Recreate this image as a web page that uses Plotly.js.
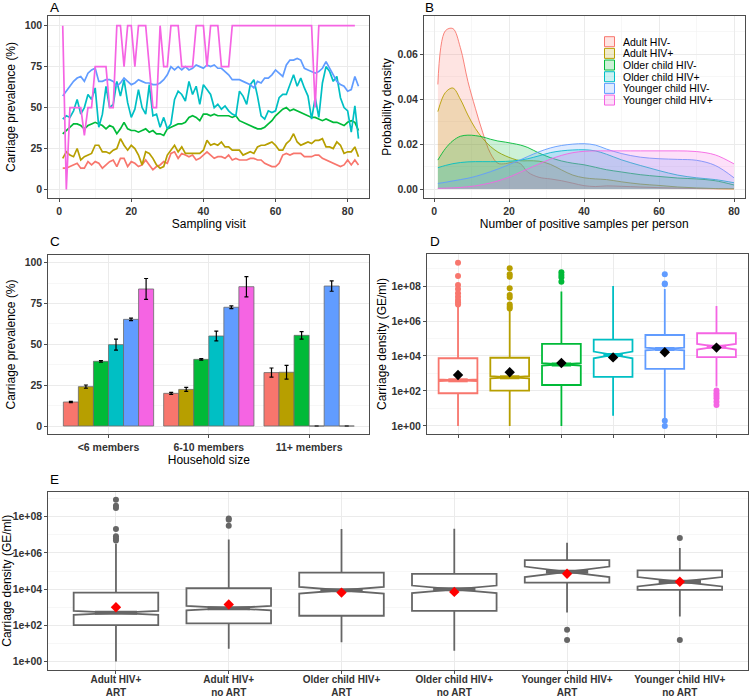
<!DOCTYPE html>
<html><head><meta charset="utf-8">
<script src="https://cdn.plot.ly/plotly-3.0.1.min.js"></script>
<style>html,body{margin:0;padding:0;background:#fff}#chart{width:750px;height:696px}</style>
</head><body><div id="chart"></div>
<script>
// ---------------- DATA ----------------
const groupNames = ['Adult HIV-','Adult HIV+','Older child HIV-','Older child HIV+','Younger child HIV-','Younger child HIV+'];
const groupColors = ['#F8766D','#B79F00','#00BA38','#00BFC4','#619CFF','#F564E3'];

// Panel A: carriage prevalence (%) per sampling visit
const prevAdultNeg = [13,13,14,15,16,13,13,17,15,17, 16,13,15,17,18,14,19,19,14,17, 16,14,15,18,15,12,14,15,17,16,
  22,23,19,22,21,20,21,18,19,21, 23,21,19,20,20,19,21,18,19,18, 18,18,19,19,18,18,16,15,14,14,
  16,21,22,21,22,22,22,20,20,20, 21,21,19,18,17,16,15,14,15,18, 15,18,15];
const prevAdultPos = [19,23,21,20,25,18,20,21,22,27, 27,23,23,22,24,25,31,27,24,27, 25,21,15,23,22,19,15,13,14,21,
  24,27,23,26,22,22,22,22,22,24, 30,27,28,27,29,26,26,24,24,24, 21,22,23,22,26,
  27,27,28,29,27,24,24,28,30,34, 29,27,28,29,28,30,30,31,26,26, 25,29,27,22,23,23,26,20];
const prevOlderNeg = [34,36,38,40,40,39,37,39,40,41, 40,39,37,39,38,34,37,41,37,36, 36,35,36,37,35,36,34,34,33,37,
  38,39,40,40,41,44,45,44,42,46, 46,45,46,45,45,45,45,44,45,42, 41,40,39,38,37,
  37,38,40,42,45,47,49,50,48,49, 48,47,46,45,44,44,43,42,43,42, 41,41,40,39,41,42,41,36];
const prevOlderPos = [43,45,44,48,55,46,50,58,55,62, 38,46,63,50,52,66,57,67,53,44, 49,61,50,46,64,45,
  46,38,44,37,40,55,60,58,54,66, 58,63,52,64,61,58,50,52,49,51, 48,46,45,60,57,52,64,67,57,
  45,43,48,47,48,56,58,58,64,70, 63,68,62,57,43,56,44,65,75,72, 66,69,56,50,48,35,51,31];
const prevYoungerNeg = [57,60,63,66,68,69,66,71,73,74, 66,66,67,67,66,63,65,68,66,64, 65,67,66,65,65,64,64,65,67,70,
  75,73,75,73,75,73,74,76,75,74, 76,75,76,74,74,72,70,67,67,67, 66,65,64,62,66,
  65,68,68,70,73,71,69,76,79,79, 80,79,74,73,72,71,72,74,78,74, 70,66,64,63,60,61,69,63];
const prevYoungerPos = [100,0,50,50,50,50,33,50,50,75, 75,75,75,50,50,100,100,75,100,100, 75,100,100,100,75,50,50,100,75,75,
  100,100,100,75,75,75,75,100,100,100, 75,100,100,100,75,75,75,100,100,100,
  100,100,100,100,100,100,100,100,100,100, 100,100,100,100,100,100,100,100,100,100,
  50,100,100,100,100,100,100,100,100,100, 100,100];

// Panel B: probability density of number of positive samples per person
const densX = [1,3,5,7,9,11,13,15,17,19,21,23,25,28,31,34,37,40,43,46,50,55,60,65,70,75,80];
const densAdultNeg = [0.0466,0.0705,0.0715,0.0630,0.0480,0.0360,0.0250,0.0160,0.0115,0.0113,0.0120,0.0113,0.0075,0.0052,0.0045,0.0037,0.0026,0.0015,0.0011,0.0014,0.0012,0.0009,0.0006,0.0004,0.0002,0.0001,0.00005];
const densAdultPos = [0.0345,0.0430,0.0450,0.0400,0.0330,0.0270,0.0225,0.0190,0.0165,0.0148,0.0135,0.0126,0.0126,0.0124,0.0110,0.0085,0.0062,0.0050,0.0045,0.0042,0.0032,0.0022,0.0016,0.0009,0.0005,0.0002,0.0001];
const densOlderNeg = [0.0129,0.0180,0.0215,0.0235,0.0240,0.0238,0.0232,0.0222,0.0214,0.0209,0.0203,0.0196,0.0185,0.0160,0.0140,0.0125,0.0115,0.0108,0.0097,0.0086,0.0076,0.0064,0.0056,0.0049,0.0045,0.0037,0.0018];
const densOlderPos = [0.0095,0.0105,0.0113,0.0118,0.0121,0.0122,0.0122,0.0122,0.0122,0.0123,0.0125,0.0129,0.0135,0.0148,0.0162,0.0170,0.0174,0.0175,0.0170,0.0155,0.0130,0.0105,0.0082,0.0062,0.0050,0.0042,0.0028];
const densYoungerNeg = [0.0025,0.0030,0.0036,0.0042,0.0048,0.0056,0.0066,0.0077,0.0089,0.0102,0.0116,0.0130,0.0145,0.0166,0.0183,0.0194,0.0200,0.0202,0.0196,0.0178,0.0158,0.0142,0.0135,0.0132,0.0128,0.0105,0.0050];
const densYoungerPos = [0.0003,0.0004,0.0005,0.0007,0.0010,0.0014,0.0020,0.0027,0.0036,0.0047,0.0060,0.0075,0.0090,0.0112,0.0133,0.0150,0.0162,0.0168,0.0170,0.0170,0.0170,0.0170,0.0170,0.0170,0.0167,0.0152,0.0112];

// Panel C: carriage prevalence (%) by household size, with error
const householdSizes = ['&lt;6 members','6-10 members','11+ members'];
const hhAdultNeg = [14.7, 20.0, 32.7],   hhAdultNegErr = [0.4, 0.6, 2.8];
const hhAdultPos = [24.1, 22.4, 32.9],   hhAdultPosErr = [1.0, 1.2, 4.2];
const hhOlderNeg = [39.6, 40.8, 55.5],   hhOlderNegErr = [0.5, 0.5, 2.3];
const hhOlderPos = [49.8, 55.1, 0],      hhOlderPosErr = [3.4, 3.0, 0];
const hhYoungerNeg = [65.3, 72.7, 85.7], hhYoungerNegErr = [0.8, 0.8, 3.2];
const hhYoungerPos = [83.9, 85.3, 0],    hhYoungerPosErr = [6.4, 6.2, 0];

// Panel D: carriage density, log10(GE/ml), per group
const dLowerFence = [0.00, 0.00, 0.00, 0.59, 0.40, 2.25];
const dQ1         = [1.87, 2.02, 2.34, 2.80, 3.26, 3.94];
const dMedian     = [2.61, 2.78, 3.52, 4.06, 4.40, 4.53];
const dQ3         = [3.87, 3.90, 4.69, 4.93, 5.20, 5.30];
const dUpperFence = [6.85, 6.65, 7.68, 8.00, 7.83, 6.86];
const dNotch      = [0.05, 0.06, 0.07, 0.19, 0.08, 0.16];
const dMean       = [2.91, 3.07, 3.60, 3.92, 4.21, 4.48];
const dOutliers = [
  [9.33, 8.57, 8.06, 7.83, 7.58, 7.39, 7.20, 7.07, 6.95],
  [9.01, 8.67, 8.53, 7.87, 7.49, 7.35, 6.95, 6.82, 6.72],
  [8.78, 8.63, 8.48, 8.25],
  [],
  [8.67, 8.15, 8.10, 0.30, 0.00],
  [2.02, 1.87, 1.73, 1.58, 1.39, 1.20]
];
const logTickVals = [0, 2, 4, 6, 8];
const logTickText = ['1e+00','1e+02','1e+04','1e+06','1e+08'];

// Panel E: carriage density by ART status, log10(GE/ml)
const artGroups = ['Adult HIV+<br>ART','Adult HIV+<br>no ART','Older child HIV+<br>ART','Older child HIV+<br>no ART','Younger child HIV+<br>ART','Younger child HIV+<br>no ART'];
const eLowerFence = [0.00, 0.70, 1.06, 0.60, 2.71, 2.49];
const eQ1         = [2.01, 2.11, 2.53, 2.80, 4.36, 3.96];
const eMedian     = [2.69, 2.95, 3.94, 3.99, 4.96, 4.41];
const eQ3         = [3.81, 4.05, 4.91, 4.85, 5.60, 5.04];
const eUpperFence = [6.51, 6.74, 7.33, 7.34, 6.56, 6.28];
const eNotch      = [0.11, 0.12, 0.18, 0.21, 0.29, 0.26];
const eMean       = [3.00, 3.15, 3.81, 3.85, 4.85, 4.41];
const eOutliers = [
  [8.94, 8.61, 8.48, 7.33, 6.92, 6.80, 6.69],
  [7.91, 7.84, 7.50],
  [],
  [],
  [1.76, 1.19],
  [6.83, 1.19]
];

// ---------------- STYLE / LAYOUT HELPERS ----------------
const FONT = 'Liberation Sans, Arial, Helvetica, sans-serif';
const W = 750, H = 696;
const px2x = (a, b) => [a / W, b / W];
const px2y = (top, bottom) => [1 - bottom / H, 1 - top / H];
function fade(hex, a) {
  const n = parseInt(hex.slice(1), 16);
  return `rgba(${(n >> 16) & 255},${(n >> 8) & 255},${n & 255},${a})`;
}
function ax(extra) {
  return Object.assign({
    showline: true, mirror: true, linecolor: '#4d4d4d', linewidth: 1,
    ticks: 'outside', ticklen: 3, tickcolor: '#4d4d4d', tickwidth: 1,
    showgrid: true, gridcolor: '#ebebeb', gridwidth: 1, zeroline: false,
    tickfont: {family: FONT, size: 10.5, color: '#333333', weight: 'bold'},
    fixedrange: true
  }, extra);
}
function ttl(text, standoff) {
  return {text: text, font: {family: FONT, size: 12, color: '#000'}, standoff: standoff};
}
const minorGrid = (tick0, dtick) => ({showgrid: true, gridcolor: '#f2f2f2', gridwidth: 0.6, tick0: tick0, dtick: dtick, ticks: ''});

const traces = [];

// Panel A
const prevSeries = [prevAdultNeg, prevAdultPos, prevOlderNeg, prevOlderPos, prevYoungerNeg, prevYoungerPos];
prevSeries.forEach((s, i) => {
  traces.push({type: 'scatter', mode: 'lines', x: s.map((_, k) => k + 1), y: s,
    line: {color: groupColors[i], width: 1.7}, xaxis: 'x', yaxis: 'y', hoverinfo: 'skip'});
});

// Panel B
const densSeries = [densAdultNeg, densAdultPos, densOlderNeg, densOlderPos, densYoungerNeg, densYoungerPos];
densSeries.forEach((s, i) => {
  traces.push({type: 'scatter', mode: 'lines', x: densX, y: s, fill: 'tozeroy',
    fillcolor: fade(groupColors[i], 0.2), line: {color: groupColors[i], width: 0.9, shape: 'spline', smoothing: 1},
    xaxis: 'x2', yaxis: 'y2', hoverinfo: 'skip'});
});

// Panel C
const hhVals = [hhAdultNeg, hhAdultPos, hhOlderNeg, hhOlderPos, hhYoungerNeg, hhYoungerPos];
const hhErrs = [hhAdultNegErr, hhAdultPosErr, hhOlderNegErr, hhOlderPosErr, hhYoungerNegErr, hhYoungerPosErr];
hhVals.forEach((v, i) => {
  traces.push({type: 'bar', x: householdSizes, y: v, name: groupNames[i],
    marker: {color: groupColors[i], line: {color: '#6b6b6b', width: 0.8}},
    error_y: {type: 'data', array: hhErrs[i], visible: true, color: '#000', thickness: 1.2, width: 2},
    xaxis: 'x3', yaxis: 'y3', hoverinfo: 'skip'});
});

// Box panels
const BOXW = 0.75, NOTCHW = 0.5;
function boxPanel(xa, ya, colors, lf, q1, med, q3, uf, notch, mean, outl, meanColor) {
  for (let i = 0; i < q1.length; i++) {
    const pos = i + 1, c = colors[i];
    traces.push({type: 'box', orientation: 'v', x: [pos], q1: [q1[i]], median: [med[i]], q3: [q3[i]],
      lowerfence: [lf[i]], upperfence: [uf[i]], notchspan: [notch[i]], notched: true, notchwidth: NOTCHW,
      width: BOXW, boxpoints: false, fillcolor: '#ffffff', line: {color: c, width: 1.8},
      whiskerwidth: 0, xaxis: xa, yaxis: ya, hoverinfo: 'skip'});
    const hw = BOXW * NOTCHW / 2;
    traces.push({type: 'scatter', mode: 'lines', x: [pos - hw, pos + hw], y: [med[i], med[i]],
      line: {color: c, width: 4}, xaxis: xa, yaxis: ya, hoverinfo: 'skip'});
    if (outl[i].length) {
      traces.push({type: 'scatter', mode: 'markers', x: outl[i].map(() => pos), y: outl[i],
        marker: {color: c, size: 6, symbol: 'circle'}, xaxis: xa, yaxis: ya, hoverinfo: 'skip'});
    }
  }
  traces.push({type: 'scatter', mode: 'markers', x: mean.map((_, k) => k + 1), y: mean,
    marker: {color: meanColor, size: 8, symbol: 'diamond'}, xaxis: xa, yaxis: ya, hoverinfo: 'skip'});
}
boxPanel('x4', 'y4', groupColors, dLowerFence, dQ1, dMedian, dQ3, dUpperFence, dNotch, dMean, dOutliers, '#000000');
boxPanel('x5', 'y5', artGroups.map(() => '#666666'), eLowerFence, eQ1, eMedian, eQ3, eUpperFence, eNotch, eMean, eOutliers, '#ff0000');

// Legend for panel B (drawn inside the panel)
const shapes = [], annotations = [];
const legTop = 41.7, legStep = 11.67;
groupNames.forEach((g, i) => {
  const cy = legTop + i * legStep;
  shapes.push({type: 'rect', xref: 'paper', yref: 'paper',
    x0: 604.5 / W, x1: 614.5 / W, y0: 1 - (cy + 5) / H, y1: 1 - (cy - 5) / H,
    fillcolor: fade(groupColors[i], 0.2), line: {color: groupColors[i], width: 1}});
  annotations.push({xref: 'paper', yref: 'paper', x: 621 / W, y: 1 - cy / H, xanchor: 'left', yanchor: 'middle',
    text: g, showarrow: false, font: {family: FONT, size: 10.5, color: '#000'}});
});
// Panel letters
[['A', 48, 7], ['B', 423, 7], ['C', 48, 242], ['D', 428, 242], ['E', 48, 479]].forEach(([t, x, y]) => {
  annotations.push({xref: 'paper', yref: 'paper', x: x / W, y: 1 - y / H, xanchor: 'left', yanchor: 'middle',
    text: t, showarrow: false, font: {family: FONT, size: 13.5, color: '#000'}});
});

const layout = {
  width: W, height: H, margin: {l: 0, r: 0, t: 0, b: 0},
  paper_bgcolor: '#fff', plot_bgcolor: '#fff', showlegend: false, hovermode: false,
  barmode: 'group', bargap: 0.1, bargroupgap: 0,
  font: {family: FONT},
  xaxis: ax({domain: px2x(48.3, 369.3), range: [-3, 86], tick0: 0, dtick: 20, minor: minorGrid(10, 20),
    title: ttl('Sampling visit', 1), anchor: 'y'}),
  yaxis: ax({domain: px2y(16, 198), range: [-5.2, 105.9], tick0: 0, dtick: 25, minor: minorGrid(12.5, 25),
    title: ttl('Carriage prevalence (%)', 6), anchor: 'x'}),
  xaxis2: ax({domain: px2x(424, 744.5), range: [-2.7, 82.8], tick0: 0, dtick: 20, minor: minorGrid(10, 20),
    title: ttl('Number of positive samples per person', 1), anchor: 'y2'}),
  yaxis2: ax({domain: px2y(16, 198), range: [-0.004, 0.0771], tickvals: [0, 0.02, 0.04, 0.06], tickformat: '.2f',
    minor: minorGrid(0.01, 0.02), title: ttl('Probability density', 3), anchor: 'x2'}),
  xaxis3: ax({domain: px2x(48.3, 369.3), type: 'category', range: [-0.6, 2.6],
    title: ttl('Household size', 0), anchor: 'y3'}),
  yaxis3: ax({domain: px2y(255, 434), range: [-4.9, 104.7], tick0: 0, dtick: 25, minor: minorGrid(12.5, 25),
    title: ttl('Carriage prevalence (%)', 6), anchor: 'x3'}),
  xaxis4: ax({domain: px2x(427, 747.5), range: [0.4, 6.6], tickvals: [1, 2, 3, 4, 5, 6], showticklabels: false, anchor: 'y4'}),
  yaxis4: ax({domain: px2y(254, 434), range: [-0.46, 9.83], tickmode: 'array', tickvals: logTickVals, ticktext: logTickText,
    minor: minorGrid(1, 2), title: ttl('Carriage density (GE/ml)', 2), anchor: 'x4'}),
  xaxis5: ax({domain: px2x(48.3, 747.5), range: [0.4, 6.6], tickmode: 'array', tickvals: [1, 2, 3, 4, 5, 6], ticktext: artGroups,
    tickfont: {family: FONT, size: 10, color: '#333333', weight: 'bold'}, ticklabelstandoff: -3, anchor: 'y5'}),
  yaxis5: ax({domain: px2y(492, 669.5), range: [-0.44, 9.37], tickmode: 'array', tickvals: logTickVals, ticktext: logTickText,
    minor: minorGrid(1, 2), title: ttl('Carriage density (GE/ml)', 5), anchor: 'x5'}),
  shapes: shapes, annotations: annotations
};

Plotly.newPlot('chart', traces, layout, {displayModeBar: false, staticPlot: true});
</script>
</body></html>
